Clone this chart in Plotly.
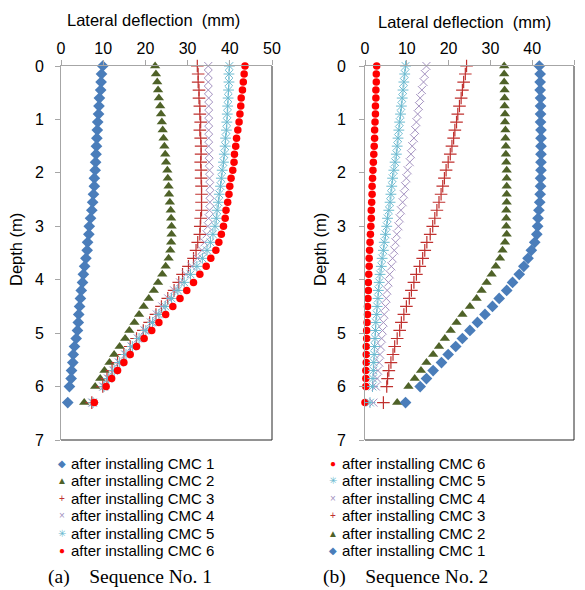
import plotly.graph_objects as go

# Depth of inclinometer readings (m)
depth = [0.0, 0.15, 0.3, 0.45, 0.6, 0.75, 0.9, 1.05, 1.2, 1.35, 1.5, 1.65, 1.8, 1.95,
         2.1, 2.25, 2.4, 2.55, 2.7, 2.85, 3.0, 3.15, 3.3, 3.45, 3.6, 3.75, 3.9, 4.05,
         4.2, 4.35, 4.5, 4.65, 4.8, 4.95, 5.1, 5.25, 5.4, 5.55, 5.7, 5.85, 6.0, 6.3]

# ---- Sequence No. 1 : lateral deflection (mm) ----
s1_cmc1 = [9.9, 9.6, 9.5, 9.4, 9.1, 9.0, 8.9, 8.7, 8.6, 8.5, 8.4, 8.3, 8.2, 8.1,
           7.9, 7.9, 7.7, 7.5, 7.3, 7.0, 6.7, 6.6, 6.3, 6.2, 5.9, 5.6, 5.3, 5.1,
           4.8, 4.6, 4.4, 4.2, 4.1, 3.9, 3.6, 3.2, 2.9, 2.8, 2.5, 2.4, 2.0, 1.6]
s1_cmc2 = [22.3, 22.5, 22.8, 23.0, 23.2, 23.5, 23.7, 23.9, 24.1, 24.3, 24.5, 24.7, 24.9, 25.2,
           25.3, 25.5, 25.6, 25.8, 26.0, 26.1, 26.2, 26.2, 26.1, 25.9, 25.5, 24.8, 24.0, 23.0,
           22.0, 20.8, 19.6, 18.5, 17.4, 16.2, 15.2, 13.9, 12.6, 11.5, 10.3, 9.3, 8.1, 5.5]
s1_cmc3 = [32.3, 32.5, 32.5, 32.7, 32.7, 32.9, 32.9, 33.1, 32.9, 33.1, 33.2, 33.2, 33.1, 33.2,
           33.2, 33.3, 33.3, 33.3, 33.3, 33.1, 33.0, 32.9, 32.4, 32.0, 31.4, 30.2, 28.8, 27.9,
           26.8, 25.3, 23.8, 22.5, 21.0, 19.5, 17.9, 16.4, 14.9, 13.4, 12.1, 10.9, 9.9, 7.3]
s1_cmc4 = [34.9, 34.9, 34.9, 34.9, 35.0, 35.0, 35.0, 35.0, 35.0, 35.0, 35.0, 35.1, 35.1, 35.2,
           35.2, 35.3, 35.3, 35.3, 35.2, 35.0, 34.8, 34.5, 34.0, 33.4, 32.3, 31.0, 29.6, 28.2,
           26.8, 25.4, 24.0, 22.7, 21.3, 19.8, 18.2, 16.7, 15.2, 13.7, 12.4, 11.1, 10.0, 7.4]
s1_cmc5 = [39.9, 39.8, 39.8, 39.7, 39.6, 39.5, 39.4, 39.3, 39.2, 39.0, 38.9, 38.7, 38.5, 38.2,
           38.0, 37.8, 37.5, 37.3, 37.0, 36.8, 36.5, 36.0, 35.4, 34.6, 33.5, 32.2, 30.7, 29.2,
           27.7, 26.2, 24.7, 23.2, 21.7, 20.1, 18.5, 16.9, 15.4, 13.9, 12.6, 11.3, 10.2, 7.6]
s1_cmc6 = [43.6, 43.4, 43.2, 43.0, 42.7, 42.6, 42.4, 42.2, 41.9, 41.6, 41.4, 41.1, 41.0, 40.7,
           40.3, 40.0, 39.8, 39.5, 39.1, 38.9, 38.5, 38.0, 37.4, 36.7, 35.5, 34.4, 32.9, 31.4,
           29.8, 28.2, 26.5, 24.8, 23.2, 21.5, 19.7, 17.9, 16.4, 14.9, 13.4, 12.0, 10.7, 7.9]

# ---- Sequence No. 2 : lateral deflection (mm) ----
s2_cmc1 = [41.7, 41.9, 41.9, 41.9, 42.0, 42.0, 42.0, 42.0, 42.1, 42.1, 42.1, 42.1, 42.1, 42.1,
           42.0, 42.0, 41.9, 41.8, 41.6, 41.4, 41.3, 41.1, 40.6, 39.8, 39.0, 38.0, 36.9, 35.3,
           33.9, 32.1, 30.5, 28.7, 26.9, 25.1, 23.3, 21.7, 19.9, 18.3, 16.3, 14.7, 13.2, 9.7]
s2_cmc2 = [33.3, 33.3, 33.3, 33.4, 33.4, 33.4, 33.5, 33.5, 33.6, 33.6, 33.7, 33.7, 33.8, 33.9,
           33.9, 33.9, 33.9, 33.9, 33.8, 33.8, 33.8, 33.9, 33.5, 32.9, 32.3, 31.3, 30.3, 29.1,
           27.9, 26.7, 25.1, 23.3, 21.9, 20.5, 19.1, 17.7, 16.3, 14.7, 13.4, 11.9, 10.4, 7.7]
s2_cmc3 = [24.3, 24.0, 23.6, 23.3, 23.0, 22.6, 22.2, 21.9, 21.5, 21.2, 20.8, 20.4, 19.9, 19.4,
           19.0, 18.6, 18.2, 17.7, 17.2, 16.7, 16.2, 15.6, 14.8, 14.3, 13.8, 13.1, 12.3, 11.7,
           11.1, 10.6, 9.9, 9.3, 8.7, 8.3, 7.7, 7.1, 6.7, 6.2, 5.7, 5.4, 5.2, 4.4]
s2_cmc4 = [14.7, 14.3, 14.0, 13.6, 13.2, 12.9, 12.6, 12.3, 12.0, 11.7, 11.3, 11.0, 10.7, 10.2,
           9.9, 9.6, 9.3, 9.0, 8.6, 8.3, 8.0, 7.6, 7.3, 7.0, 6.6, 6.3, 5.9, 5.6,
           5.3, 5.1, 4.9, 4.6, 4.4, 4.2, 4.0, 3.8, 3.6, 3.4, 3.1, 2.9, 2.6, 2.0]
s2_cmc5 = [9.7, 9.5, 9.3, 9.1, 8.9, 8.7, 8.5, 8.3, 8.1, 7.9, 7.7, 7.5, 7.2, 6.9,
           6.6, 6.4, 6.2, 6.0, 5.7, 5.4, 5.2, 4.9, 4.6, 4.4, 4.1, 3.9, 3.6, 3.4,
           3.2, 3.1, 2.9, 2.8, 2.6, 2.5, 2.4, 2.3, 2.2, 2.1, 2.0, 1.9, 1.8, 1.2]
s2_cmc6 = [2.8, 2.7, 2.7, 2.6, 2.6, 2.5, 2.5, 2.4, 2.3, 2.3, 2.2, 2.1, 2.0, 1.9,
           1.8, 1.7, 1.7, 1.6, 1.5, 1.5, 1.4, 1.3, 1.2, 1.1, 1.0, 1.0, 0.9, 0.8,
           0.8, 0.7, 0.6, 0.6, 0.5, 0.4, 0.4, 0.3, 0.3, 0.3, 0.2, 0.2, 0.2, 0.0]

names = ["after installing CMC 1", "after installing CMC 2", "after installing CMC 3",
         "after installing CMC 4", "after installing CMC 5", "after installing CMC 6"]
legend_glyphs = ["\u25C6", "\u25B2", "+", "\u00D7", "\u2733", "\u25CF"]
x_ticks = [0, 10, 20, 30, 40, 50]
y_ticks = [0, 1, 2, 3, 4, 5, 6, 7]
x_title = "Lateral deflection\u00a0 (mm)"
y_title = "Depth (m)"
captions = ["(a)\u00a0\u00a0\u00a0\u00a0Sequence No. 1", "(b)\u00a0\u00a0\u00a0\u00a0Sequence No. 2"]

# ---- styles ----
colors = ["#4A7DBA", "#4F6228", "#C0302E", "#A391C0", "#6BBAD0", "#FF0000"]
styles = [
    dict(symbol="diamond", size=9, color=colors[0], line=dict(width=0)),
    dict(symbol="triangle-up", size=9, color=colors[1], line=dict(width=0)),
    dict(symbol="cross-thin-open", size=9, color=colors[2], line=dict(width=1.2, color=colors[2])),
    dict(symbol="x-thin-open", size=8, color=colors[3], line=dict(width=1, color=colors[3])),
    dict(symbol="asterisk-open", size=9, color=colors[4], line=dict(width=1, color=colors[4])),
    dict(symbol="circle", size=7.5, color=colors[5], line=dict(width=0)),
]

# page has an 8px body margin: figure starts at (8, 8) in the page
OFF = 8
W, H = 585 - 2 * OFF, 590 - OFF
FONT = "Liberation Sans, Arial, sans-serif"
SERIF = "Liberation Serif, Times New Roman, serif"


def px(x):
    return (x - OFF) / W


def py(y):
    return 1 - (y - OFF) / H


fig = go.Figure()

seq1 = [s1_cmc1, s1_cmc2, s1_cmc3, s1_cmc4, s1_cmc5, s1_cmc6]
seq2 = [s2_cmc1, s2_cmc2, s2_cmc3, s2_cmc4, s2_cmc5, s2_cmc6]

for i in range(6):
    fig.add_trace(go.Scatter(x=seq1[i], y=depth, mode="markers", name=names[i],
                             marker=styles[i], xaxis="x", yaxis="y",
                             cliponaxis=False, showlegend=False))
for i in [5, 4, 3, 2, 1, 0]:
    fig.add_trace(go.Scatter(x=seq2[i], y=depth, mode="markers", name=names[i],
                             marker=styles[i], xaxis="x2", yaxis="y2",
                             cliponaxis=False, showlegend=False))

gray = "#A6A6A6"
axis_common = dict(showline=True, linecolor=gray, linewidth=1, ticks="outside",
                   ticklen=5, tickcolor=gray, showgrid=False, zeroline=False,
                   tickfont=dict(family=FONT, size=16, color="black"), automargin=False)

ytop, ybot = 66, 440
fig.update_layout(
    width=W, height=H, margin=dict(l=0, r=0, t=0, b=0),
    paper_bgcolor="white", plot_bgcolor="white",
    font=dict(family=FONT, color="black"),
    xaxis=dict(domain=[px(61), px(272)], range=[0, 50], side="top", tickvals=x_ticks,
               anchor="y", **axis_common),
    yaxis=dict(domain=[py(ybot), py(ytop)], range=[7, 0], tickvals=y_ticks,
               anchor="x", ticklabelstandoff=8, **axis_common),
    xaxis2=dict(domain=[px(365), px(574)], range=[0, 50], side="top", tickvals=x_ticks,
                anchor="y2", **axis_common),
    yaxis2=dict(domain=[py(ybot), py(ytop)], range=[7, 0], tickvals=y_ticks,
                anchor="x2", ticklabelstandoff=10, **axis_common),
    showlegend=False,
)

# black plot-area border on right and bottom
for xr, yr in [("x domain", "y domain"), ("x2 domain", "y2 domain")]:
    fig.add_shape(type="line", xref=xr, yref=yr, x0=1, x1=1, y0=0, y1=1,
                  line=dict(color="#262626", width=1), layer="below")
    fig.add_shape(type="line", xref=xr, yref=yr, x0=0, x1=1, y0=0, y1=0,
                  line=dict(color="#262626", width=1), layer="below")


def ann(text, x, y, size, family=FONT, xanchor="center", angle=0, color="black"):
    fig.add_annotation(text=text, x=px(x), y=py(y), xref="paper", yref="paper",
                       showarrow=False, xanchor=xanchor, yanchor="middle",
                       textangle=angle, font=dict(family=family, size=size, color=color))


# axis titles
ann(x_title, 153.5, 20, 16.5)
ann(x_title, 464, 22, 16.5)
ann(y_title, 16, 250, 16.5, angle=-90)
ann(y_title, 320, 250, 16.5, angle=-90)

# legends (left: CMC 1..6, right: CMC 6..1)
row_y = [463, 480.5, 498, 515.5, 533, 550.5]
for r, i in enumerate(range(6)):
    ann(legend_glyphs[i], 62, row_y[r], 10, color=colors[i])
    ann(names[i], 69, row_y[r], 15, xanchor="left")
for r, i in enumerate([5, 4, 3, 2, 1, 0]):
    ann(legend_glyphs[i], 333, row_y[r], 10, color=colors[i])
    ann(names[i], 340.5, row_y[r], 15, xanchor="left")

# captions
ann(captions[0], 129.5, 577, 19.5, family=SERIF)
ann(captions[1], 405.5, 577, 19.5, family=SERIF)

fig.write_html("out.html")
